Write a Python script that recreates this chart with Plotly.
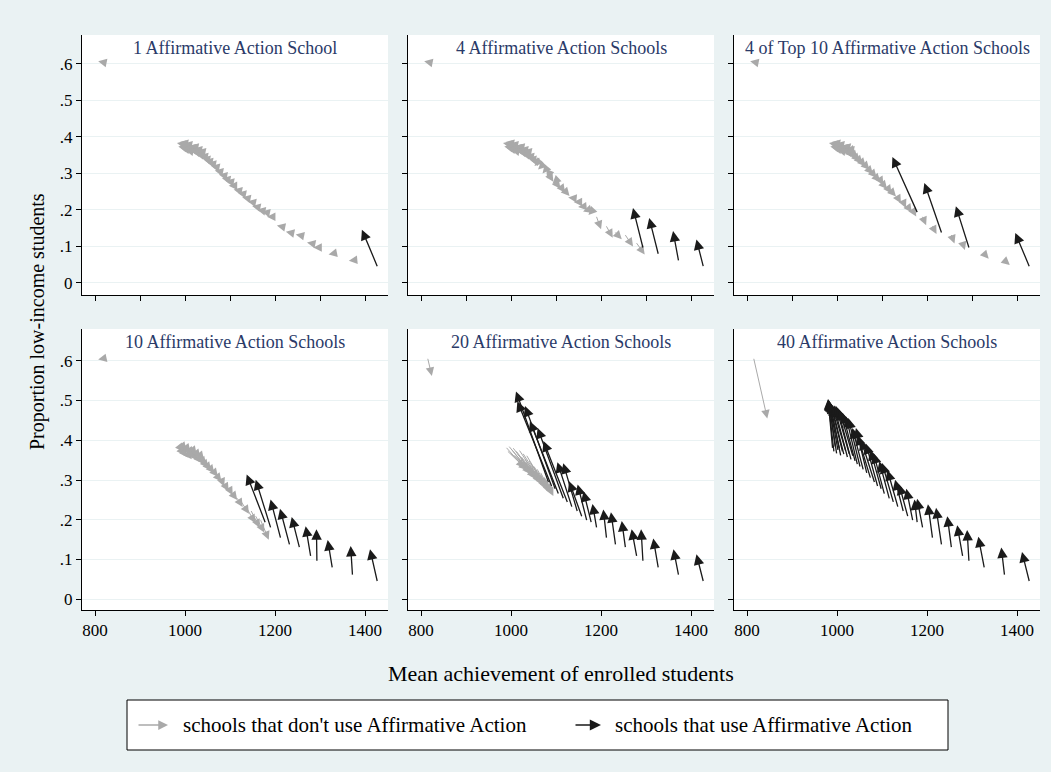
import plotly.graph_objects as go

# ---------------------------------------------------------------------------
# Data: 41 schools. Tail of every arrow = equilibrium without affirmative
# action; head = equilibrium under each scenario.
# ---------------------------------------------------------------------------
panel_titles = [
    "1 Affirmative Action School",
    "4 Affirmative Action Schools",
    "4 of Top 10 Affirmative Action Schools",
    "10 Affirmative Action Schools",
    "20 Affirmative Action Schools",
    "40 Affirmative Action Schools",
]

base_x = [815, 990, 993, 996, 999, 1002, 1005, 1008, 1012, 1015, 1019, 1023, 1027,
          1031, 1035, 1040, 1045, 1051, 1058, 1066, 1074, 1083, 1090, 1098, 1105,
          1116, 1125, 1135, 1147, 1157, 1168, 1178, 1190, 1212, 1232, 1254, 1279,
          1293, 1327, 1372, 1427]
base_y = [0.605, 0.381, 0.372, 0.384, 0.367, 0.376, 0.380, 0.362, 0.372, 0.365,
          0.374, 0.358, 0.366, 0.352, 0.361, 0.348, 0.340, 0.334, 0.327, 0.318,
          0.306, 0.295, 0.285, 0.278, 0.266, 0.254, 0.245, 0.233, 0.222, 0.209,
          0.199, 0.194, 0.181, 0.155, 0.138, 0.131, 0.109, 0.097, 0.080, 0.062,
          0.046]

# Scenario 1: one affirmative-action school
p1_aa = [40]
p1_x = [807, 982, 985, 988, 991, 994, 997, 1000, 1004, 1007, 1011, 1015, 1019,
        1023, 1027, 1032, 1037, 1043, 1050, 1058, 1066, 1075, 1082, 1090, 1097,
        1108, 1117, 1127, 1139, 1149, 1160, 1170, 1182, 1204, 1224, 1246, 1271,
        1285, 1319, 1364, 1393]
p1_y = [0.607, 0.383, 0.374, 0.386, 0.369, 0.378, 0.382, 0.364, 0.374, 0.367,
        0.376, 0.360, 0.368, 0.354, 0.363, 0.350, 0.342, 0.336, 0.329, 0.320,
        0.308, 0.297, 0.287, 0.280, 0.266, 0.256, 0.247, 0.235, 0.224, 0.211,
        0.201, 0.196, 0.181, 0.157, 0.140, 0.133, 0.111, 0.097, 0.078, 0.061,
        0.146]

# Scenario 2: four affirmative-action schools
p2_aa = [37, 38, 39, 40]
p2_x = [807, 982, 985, 988, 991, 994, 997, 1000, 1004, 1007, 1011, 1015, 1019,
        1023, 1027, 1032, 1037, 1043, 1052, 1060, 1070, 1080, 1094, 1092, 1110,
        1120, 1130, 1127, 1139, 1149, 1160, 1172, 1200, 1226, 1246, 1271, 1297,
        1271, 1307, 1360, 1412]
p2_y = [0.607, 0.383, 0.374, 0.386, 0.369, 0.378, 0.382, 0.364, 0.374, 0.367,
        0.376, 0.360, 0.368, 0.354, 0.363, 0.350, 0.342, 0.336, 0.320, 0.311,
        0.300, 0.286, 0.277, 0.271, 0.258, 0.247, 0.238, 0.234, 0.222, 0.208,
        0.196, 0.186, 0.147, 0.124, 0.120, 0.100, 0.078, 0.205, 0.178, 0.142,
        0.119]

# Scenario 3: four of the top ten schools use affirmative action
p3_aa = [31, 34, 37, 40]
p3_x = [807, 982, 985, 988, 991, 994, 997, 1000, 1004, 1007, 1011, 1015, 1019,
        1037, 1041, 1046, 1051, 1057, 1064, 1072, 1080, 1088, 1096, 1103, 1111,
        1121, 1131, 1142, 1153, 1166, 1176, 1123, 1198, 1221, 1194, 1261, 1284,
        1264, 1337, 1384, 1396]
p3_y = [0.607, 0.383, 0.374, 0.386, 0.369, 0.378, 0.382, 0.364, 0.374, 0.367,
        0.376, 0.360, 0.368, 0.344, 0.353, 0.340, 0.332, 0.326, 0.319, 0.310,
        0.298, 0.288, 0.277, 0.268, 0.257, 0.245, 0.237, 0.218, 0.205, 0.193,
        0.182, 0.345, 0.158, 0.134, 0.274, 0.108, 0.090, 0.210, 0.066, 0.049,
        0.137]

# Scenario 4: ten affirmative-action schools
p4_aa = [31, 32, 33, 34, 35, 36, 37, 38, 39, 40]
p4_x = [807, 997, 1000, 1003, 1006, 1009, 1012, 1015, 1019, 1022, 1026, 1030, 1034,
        1038, 1042, 1047, 1052, 1058, 1065, 1073, 1081, 1087, 1097, 1106, 1116,
        1128, 1142, 1156, 1166, 1176, 1186, 1137, 1157, 1190, 1211, 1237, 1268,
        1292, 1317, 1368, 1411]
p4_y = [0.603, 0.371, 0.362, 0.374, 0.357, 0.366, 0.370, 0.352, 0.362, 0.355,
        0.364, 0.348, 0.356, 0.342, 0.351, 0.338, 0.330, 0.324, 0.317, 0.308,
        0.296, 0.284, 0.272, 0.262, 0.250, 0.232, 0.215, 0.192, 0.180, 0.168,
        0.150, 0.314, 0.301, 0.251, 0.228, 0.207, 0.184, 0.176, 0.149, 0.134,
        0.126]

# Scenario 5: twenty affirmative-action schools
p5_aa = list(range(21, 41))
p5_x = [824, 1030, 1036, 1040, 1045, 1048, 1052, 1055, 1058, 1061, 1064, 1067, 1070,
        1073, 1076, 1079, 1082, 1085, 1088, 1091, 1094, 1011, 1014, 1031, 1042,
        1059, 1072, 1103, 1116, 1129, 1148, 1161, 1181, 1205, 1222, 1246, 1268,
        1289, 1316, 1361, 1412]
p5_y = [0.562, 0.330, 0.325, 0.322, 0.318, 0.313, 0.310, 0.306, 0.302, 0.300,
        0.296, 0.293, 0.290, 0.287, 0.283, 0.280, 0.277, 0.273, 0.268, 0.264,
        0.260, 0.523, 0.498, 0.486, 0.448, 0.431, 0.398, 0.345, 0.342, 0.297,
        0.289, 0.272, 0.240, 0.226, 0.219, 0.197, 0.176, 0.176, 0.153, 0.126,
        0.113]

# Scenario 6: forty affirmative-action schools
p6_aa = list(range(1, 41))
p6_x = [845, 980, 980, 981, 981, 982, 983, 984, 986, 988, 990, 993, 997, 1001,
        1005, 1012, 1020, 1025, 1034, 1042, 1045, 1053, 1064, 1074, 1081, 1094,
        1100, 1112, 1129, 1138, 1154, 1172, 1178, 1202, 1220, 1245, 1267, 1289,
        1314, 1365, 1411]
p6_y = [0.455, 0.504, 0.502, 0.502, 0.500, 0.499, 0.497, 0.494, 0.490, 0.486,
        0.486, 0.488, 0.487, 0.482, 0.477, 0.469, 0.460, 0.456, 0.431, 0.431,
        0.414, 0.402, 0.392, 0.376, 0.368, 0.347, 0.343, 0.325, 0.301, 0.289,
        0.278, 0.251, 0.253, 0.239, 0.230, 0.209, 0.186, 0.174, 0.157, 0.130,
        0.119]

scenarios = [(p1_x, p1_y, p1_aa), (p2_x, p2_y, p2_aa), (p3_x, p3_y, p3_aa),
             (p4_x, p4_y, p4_aa), (p5_x, p5_y, p5_aa), (p6_x, p6_y, p6_aa)]

y_ticks = [0, 0.1, 0.2, 0.3, 0.4, 0.5, 0.6]
y_tick_text = ["0", ".1", ".2", ".3", ".4", ".5", ".6"]
x_ticks_top = [800, 900, 1000, 1100, 1200, 1300, 1400]
x_ticks_bottom = [800, 1000, 1200, 1400]

# ---------------------------------------------------------------------------
# Layout geometry (pixels in a 1051 x 772 page)
# ---------------------------------------------------------------------------
W, H = 1051, 772
BG = "#eaf2f3"
GRAY = "#a9a9a9"
BLACK = "#1a1a1a"
TITLE_COLOR = "#2a3a68"
FONT = "Liberation Serif"

col_px = [(82, 388), (408, 714), (734, 1040)]
row_px = [(35, 295), (329, 610)]
row_yrange = [[-0.033, 0.679], [-0.027, 0.680]]
x_range = [771, 1451]


def fx(px):
    return px / W


def fy(py):
    return 1 - py / H


def arrow(hx, hy, tx, ty, xa, ya, color, head, size, width):
    # text-less annotation: the arrow runs from the tail (ax, ay) to the head (x, y)
    return dict(x=hx, y=hy, ax=tx, ay=ty, xref=xa, yref=ya, axref=xa, ayref=ya,
                text="", font=dict(size=1), borderpad=0, borderwidth=0,
                showarrow=True, arrowhead=head, arrowsize=size, arrowwidth=width,
                arrowcolor=color, standoff=0, startstandoff=0)


fig = go.Figure()
annotations = []
layout_axes = {}

for k in range(6):
    r, c = divmod(k, 3)
    sfx = "" if k == 0 else str(k + 1)
    xa, ya = "x" + sfx, "y" + sfx
    x0, x1 = col_px[c]
    y0, y1 = row_px[r]

    layout_axes["xaxis" + sfx] = dict(
        domain=[fx(x0), fx(x1)], anchor=ya, range=x_range,
        showline=True, linecolor="black", linewidth=1,
        ticks="outside", ticklen=5, tickcolor="black", tickwidth=1,
        tickvals=x_ticks_top if r == 0 else x_ticks_bottom,
        showticklabels=(r == 1), showgrid=False, zeroline=False,
        tickfont=dict(family=FONT, size=17, color="black"),
    )
    layout_axes["yaxis" + sfx] = dict(
        domain=[fy(y1), fy(y0)], anchor=xa, range=row_yrange[r],
        showline=True, linecolor="black", linewidth=1,
        ticks="outside", ticklen=5, tickcolor="black", tickwidth=1,
        tickvals=y_ticks, ticktext=y_tick_text, showticklabels=(c == 0),
        showgrid=True, gridcolor=BG, gridwidth=1.2, zeroline=False,
        tickfont=dict(family=FONT, size=17, color="black"),
    )

    hx, hy, aa = scenarios[k]
    # invisible anchor trace so each subplot exists
    fig.add_trace(go.Scatter(x=base_x, y=base_y, xaxis=xa, yaxis=ya,
                             mode="markers", marker=dict(size=1, opacity=0),
                             hoverinfo="skip", showlegend=False))

    gray_ids = [i for i in range(len(base_x)) if i not in aa]
    for i in gray_ids:
        annotations.append(arrow(hx[i], hy[i], base_x[i], base_y[i], xa, ya,
                                 GRAY, 2, 1.7, 1))
    for i in aa:
        annotations.append(arrow(hx[i], hy[i], base_x[i], base_y[i], xa, ya,
                                 BLACK, 2, 1.6, 1.3))

    # panel title
    annotations.append(dict(
        x=fx((x0 + x1) / 2), y=fy(y0 + 12.5), xref="paper", yref="paper",
        text=panel_titles[k], showarrow=False, xanchor="center", yanchor="middle",
        font=dict(family=FONT, size=18, color=TITLE_COLOR)))

# axis titles
annotations.append(dict(
    x=fx(38), y=fy(322), xref="paper", yref="paper", textangle=-90,
    xanchor="center", yanchor="middle",
    text="Proportion low-income students", showarrow=False,
    font=dict(family=FONT, size=20, color="black")))
annotations.append(dict(
    x=fx(561), y=fy(673), xref="paper", yref="paper",
    xanchor="center", yanchor="middle",
    text="Mean achievement of enrolled students", showarrow=False,
    font=dict(family=FONT, size=22, color="black")))

# legend
leg_y = fy(725)
annotations.append(dict(
    x=fx(168), y=leg_y, xref="paper", yref="paper", ax=-30, ay=0, text="",
    font=dict(size=1), borderpad=0,
    showarrow=True, arrowhead=2, arrowsize=1.3, arrowwidth=1.5,
    arrowcolor=GRAY, standoff=0, startstandoff=0))
annotations.append(dict(
    x=fx(181), y=leg_y, xref="paper", yref="paper", xanchor="left",
    yanchor="middle", text="schools that don't use Affirmative Action",
    showarrow=False, font=dict(family=FONT, size=21, color="black")))
annotations.append(dict(
    x=fx(601), y=leg_y, xref="paper", yref="paper", ax=-26, ay=0, text="",
    font=dict(size=1), borderpad=0,
    showarrow=True, arrowhead=2, arrowsize=1.4, arrowwidth=1.6,
    arrowcolor=BLACK, standoff=0, startstandoff=0))
annotations.append(dict(
    x=fx(613), y=leg_y, xref="paper", yref="paper", xanchor="left",
    yanchor="middle", text="schools that use Affirmative Action",
    showarrow=False, font=dict(family=FONT, size=21, color="black")))

shapes = [dict(type="rect", xref="paper", yref="paper",
               x0=fx(127), x1=fx(948), y0=fy(750), y1=fy(700),
               fillcolor="white", line=dict(color="black", width=1), layer="below")]

fig.update_layout(
    width=W, height=H, autosize=False,
    margin=dict(l=0, r=0, t=0, b=0),
    paper_bgcolor=BG, plot_bgcolor="white",
    showlegend=False, annotations=annotations, shapes=shapes,
    font=dict(family=FONT, color="black"),
    **layout_axes,
)

fig.write_html("out.html")
